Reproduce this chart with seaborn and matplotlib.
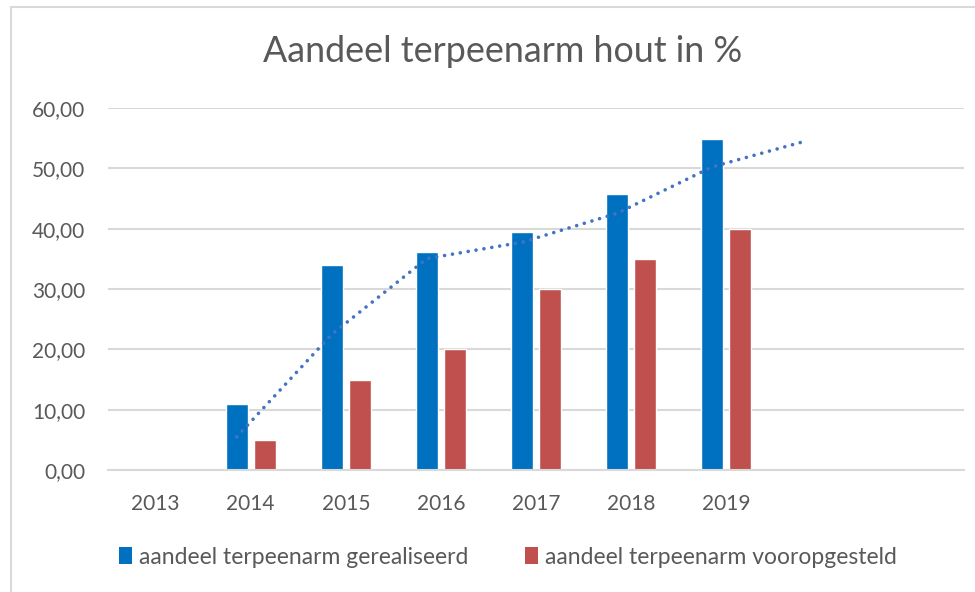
import matplotlib
matplotlib.use("Agg")
import matplotlib.pyplot as plt
import matplotlib.ticker as mticker
from matplotlib.patches import Rectangle, Patch
import seaborn as sns
import pandas as pd
import numpy as np

# ---- data ----
categories = ["2013", "2014", "2015", "2016", "2017", "2018", "2019", " ", "  "]
years = ["2014", "2015", "2016", "2017", "2018", "2019"]
gerealiseerd = [11.0, 34.0, 36.1, 39.4, 45.7, 54.8]
vooropgesteld = [5.0, 15.0, 20.0, 30.0, 35.0, 40.0]
trend_values = [5.5, 22.5, 35.05, 37.75, 42.55, 50.25, 54.6]
series_names = ["aandeel terpeenarm gerealiseerd", "aandeel terpeenarm vooropgesteld"]
title = "Aandeel terpeenarm hout in %"

BLUE = "#0070C0"
RED = "#C0504D"
TREND = "#4472C4"
GRID = "#D9D9D9"
TEXT = "#595959"

sns.set_theme(style="white")
plt.rcParams["font.family"] = ["Lato", "DejaVu Sans"]

df = pd.DataFrame({
    "jaar": years * 2,
    "waarde": gerealiseerd + vooropgesteld,
    "reeks": [series_names[0]] * len(years) + [series_names[1]] * len(years),
})

W, H = 975, 592
fig = plt.figure(figsize=(W / 100, H / 100), dpi=100)
ax = fig.add_axes([108 / W, (H - 470) / H, (964 - 108) / W, (470 - 108) / H])

bar_width = 0.586
sns.barplot(data=df, x="jaar", y="waarde", hue="reeks", order=categories,
            hue_order=series_names, palette=[BLUE, RED], width=bar_width,
            gap=0.214, ax=ax, legend=False, saturation=1, errorbar=None)

# trendline (moving-average style), positioned on the blue bar centres
offset = -bar_width / 4
trend_x = np.arange(1, 1 + len(trend_values)) + offset
ax.plot(trend_x, trend_values, color=TREND, linewidth=2.6,
        linestyle=(0, (0.01, 2.2)), dash_capstyle="round", zorder=5)

ax.set_xlim(-0.5, len(categories) - 0.5)
ax.set_ylim(0, 60)
ax.set_yticks(np.arange(0, 61, 10))
ax.yaxis.set_major_formatter(mticker.FuncFormatter(lambda v, p: f"{v:.2f}".replace(".", ",")))
ax.grid(axis="y", color=GRID, linewidth=1.5)
ax.set_axisbelow(True)
for s in ["top", "right", "left"]:
    ax.spines[s].set_visible(False)
ax.spines["bottom"].set_color(GRID)
ax.spines["bottom"].set_linewidth(1.5)
ax.tick_params(axis="y", length=0, pad=16.5, labelsize=15, labelcolor=TEXT)
ax.tick_params(axis="x", length=0, pad=17, labelsize=15, labelcolor=TEXT)
ax.set_xlabel("")
ax.set_ylabel("")

fig.text(503 / W, 1 - 52 / H, title, ha="center", va="center", fontsize=25.8, color=TEXT)

handles = [Patch(facecolor=BLUE, edgecolor="none"), Patch(facecolor=RED, edgecolor="none")]
fig.legend(handles, series_names, loc="center", bbox_to_anchor=(508 / W, 1 - 557 / H),
           ncol=2, frameon=False, fontsize=16.5, labelcolor=TEXT,
           handlelength=0.57, handleheight=0.8, handletextpad=0.3, columnspacing=2.5)

# chart frame
fig.add_artist(Rectangle((11 / W, -0.1), 1.2, 1 - 6.5 / H + 0.1, transform=fig.transFigure,
                         fill=False, edgecolor=GRID, linewidth=1.5))

fig.savefig("out.png", dpi=100, facecolor="white")
